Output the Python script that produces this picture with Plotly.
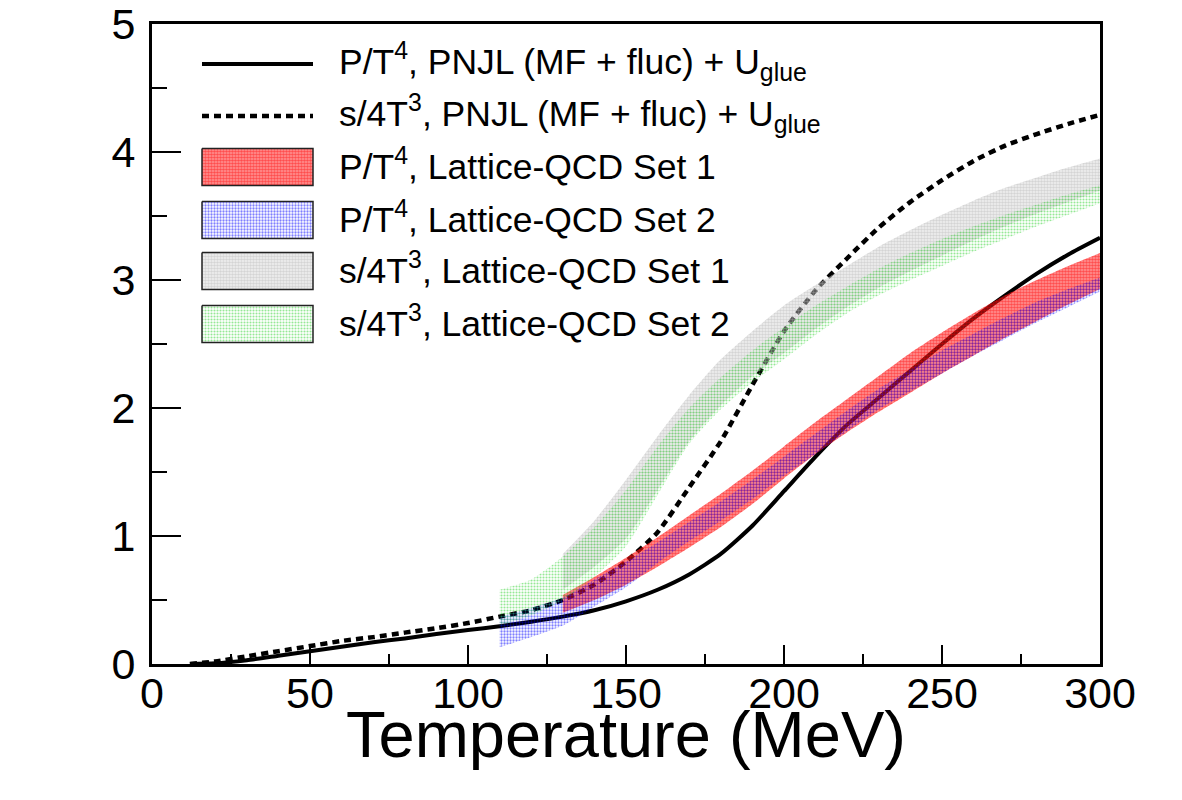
import plotly.graph_objects as go

# ---------------- data ----------------
T_line = [12, 20, 30, 40, 50, 60, 70, 80, 90, 100, 110, 120, 130, 140, 150, 160, 170, 180, 190, 200,
          210, 220, 230, 240, 250, 260, 270, 280, 290, 300]
P_pnjl = [0.0, 0.005, 0.03, 0.065, 0.10, 0.135, 0.17, 0.20, 0.235, 0.265, 0.295, 0.33, 0.37, 0.42, 0.49,
          0.58, 0.70, 0.86, 1.08, 1.35, 1.62, 1.87, 2.08, 2.29, 2.50, 2.70, 2.88, 3.05, 3.20, 3.33]
S_pnjl = [0.0, 0.02, 0.06, 0.10, 0.14, 0.18, 0.21, 0.245, 0.28, 0.32, 0.37, 0.42, 0.50, 0.62, 0.80,
          1.03, 1.38, 1.74, 2.18, 2.60, 2.92, 3.17, 3.41, 3.61, 3.78, 3.93, 4.05, 4.14, 4.22, 4.29]

T_set1 = [130, 140, 150, 160, 170, 180, 190, 200, 210, 220, 230, 240, 250, 260, 270, 280, 290, 300]
T_set2 = [110, 120, 130, 140, 150, 160, 170, 180, 190, 200, 210, 220, 230, 240, 250, 260, 270, 280, 290, 300]

P_set1_lo = [0.40, 0.50, 0.62, 0.76, 0.91, 1.07, 1.25, 1.45, 1.64, 1.81, 1.97, 2.12, 2.27, 2.41, 2.55, 2.68, 2.81, 2.93]
P_set1_hi = [0.54, 0.68, 0.83, 0.99, 1.16, 1.33, 1.51, 1.70, 1.89, 2.07, 2.25, 2.43, 2.59, 2.74, 2.88, 3.00, 3.11, 3.21]
P_set2_lo = [0.13, 0.21, 0.30, 0.45, 0.60, 0.79, 0.96, 1.12, 1.29, 1.47, 1.64, 1.82, 1.99, 2.13, 2.27, 2.41, 2.54, 2.67, 2.79, 2.91]
P_set2_hi = [0.37, 0.44, 0.52, 0.66, 0.80, 0.95, 1.11, 1.27, 1.44, 1.62, 1.80, 1.98, 2.15, 2.30, 2.45, 2.58, 2.71, 2.83, 2.93, 3.02]

S_set1_lo = [0.58, 0.76, 0.98, 1.36, 1.74, 2.02, 2.25, 2.43, 2.62, 2.79, 2.94, 3.07, 3.19, 3.31, 3.42, 3.52, 3.61, 3.70]
S_set1_hi = [0.86, 1.12, 1.44, 1.78, 2.10, 2.38, 2.60, 2.80, 2.96, 3.11, 3.26, 3.39, 3.51, 3.62, 3.72, 3.80, 3.88, 3.95]
S_set2_lo = [0.30, 0.38, 0.50, 0.68, 0.92, 1.32, 1.72, 1.99, 2.20, 2.38, 2.57, 2.74, 2.88, 3.00, 3.11, 3.22, 3.32, 3.42, 3.51, 3.60]
S_set2_hi = [0.58, 0.66, 0.84, 1.07, 1.36, 1.70, 2.00, 2.24, 2.45, 2.63, 2.80, 2.95, 3.09, 3.21, 3.32, 3.42, 3.51, 3.59, 3.67, 3.74]

legend_labels = [
    "P/T<sup>4</sup>, PNJL (MF + fluc) + U<sub>glue</sub>",
    "s/4T<sup>3</sup>, PNJL (MF + fluc) + U<sub>glue</sub>",
    "P/T<sup>4</sup>, Lattice-QCD Set 1",
    "P/T<sup>4</sup>, Lattice-QCD Set 2",
    "s/4T<sup>3</sup>, Lattice-QCD Set 1",
    "s/4T<sup>3</sup>, Lattice-QCD Set 2",
]
x_ticks = [0, 50, 100, 150, 200, 250, 300]
y_ticks = [0, 1, 2, 3, 4, 5]
x_title = "Temperature (MeV)"

# ---------------- styles ----------------
W, H = 1182, 800
FONT = "Liberation Sans, Arial, Helvetica, sans-serif"
PL, PR, PT, PB = 152, 1100, 24, 664  # plot frame in pixels

band_styles = {
    "red": dict(shape=".", fgcolor="#ff0000", bgcolor="rgba(255,30,30,0.45)", size=3, solidity=0.6),
    "blue": dict(shape=".", fgcolor="#0000ff", bgcolor="rgba(0,0,0,0)", size=3, solidity=0.45),
    "grey": dict(shape=".", fgcolor="#b8b8b8", bgcolor="rgba(215,215,215,0.35)", size=3, solidity=0.55),
    "green": dict(shape=".", fgcolor="#2ed12e", bgcolor="rgba(0,0,0,0)", size=3, solidity=0.4),
}

fig = go.Figure()

# lines
fig.add_trace(go.Scatter(x=T_line, y=P_pnjl, mode="lines",
                         line=dict(color="black", width=4, shape="spline", smoothing=0.6),
                         showlegend=False, hoverinfo="skip"))
fig.add_trace(go.Scatter(x=T_line, y=S_pnjl, mode="lines",
                         line=dict(color="black", width=4.5, dash="7px,5px", shape="spline", smoothing=0.6),
                         showlegend=False, hoverinfo="skip"))


def add_band(T, lo, hi, style):
    fig.add_trace(go.Scatter(x=T, y=lo, mode="lines", line=dict(width=0, shape="spline", smoothing=0.6),
                             showlegend=False, hoverinfo="skip"))
    fig.add_trace(go.Scatter(x=T, y=hi, mode="lines", line=dict(width=0, shape="spline", smoothing=0.6),
                             fill="tonexty", fillcolor="rgba(0,0,0,0)", fillpattern=style,
                             showlegend=False, hoverinfo="skip"))


add_band(T_set1, P_set1_lo, P_set1_hi, band_styles["red"])
add_band(T_set2, P_set2_lo, P_set2_hi, band_styles["blue"])
add_band(T_set1, S_set1_lo, S_set1_hi, band_styles["grey"])
add_band(T_set2, S_set2_lo, S_set2_hi, band_styles["green"])

# ---------------- legend (drawn on a full-figure pixel overlay axis) ----------------
leg_x0, leg_x1, txt_x = 202, 313, 337
row_y = [64, 116, 167, 220, 271, 324]
txt_dy = -3
box_h = 37
fig.add_trace(go.Scatter(x=[leg_x0, leg_x1], y=[row_y[0]] * 2, xaxis="x2", yaxis="y2", mode="lines",
                         line=dict(color="black", width=4), showlegend=False, hoverinfo="skip"))
fig.add_trace(go.Scatter(x=[leg_x0, leg_x1], y=[row_y[1]] * 2, xaxis="x2", yaxis="y2", mode="lines",
                         line=dict(color="black", width=4.5, dash="7px,5px"), showlegend=False, hoverinfo="skip"))
for yc, key in zip(row_y[2:], ["red", "blue", "grey", "green"]):
    y0, y1 = yc - box_h / 2, yc + box_h / 2
    fig.add_trace(go.Scatter(x=[leg_x0, leg_x1, leg_x1, leg_x0, leg_x0], y=[y0, y0, y1, y1, y0],
                             xaxis="x2", yaxis="y2", mode="lines", fill="toself", fillcolor="rgba(0,0,0,0)",
                             fillpattern=band_styles[key], line=dict(color="#222", width=1.5),
                             showlegend=False, hoverinfo="skip"))
for yc, lab in zip(row_y, legend_labels):
    fig.add_annotation(x=txt_x, y=yc + txt_dy, xref="x2", yref="y2", text=lab, showarrow=False,
                       xanchor="left", yanchor="middle", font=dict(family=FONT, size=35.5, color="black"))

# axis title
fig.add_annotation(x=(PL + PR) / 2, y=734, xref="x2", yref="y2", text=x_title, showarrow=False,
                   xanchor="center", yanchor="middle", font=dict(family=FONT, size=65, color="black"))

xd = [PL / W, PR / W]
yd = [1 - PB / H, 1 - PT / H]
fig.update_layout(
    width=W, height=H, margin=dict(l=0, r=0, t=0, b=0, autoexpand=False),
    paper_bgcolor="white", plot_bgcolor="rgba(0,0,0,0)",
    showlegend=False,
    xaxis=dict(domain=xd, range=[0, 300], tickvals=x_ticks, ticks="inside", ticklen=19, tickwidth=2,
               tickcolor="black", showline=True, linecolor="black", linewidth=3, mirror=True,
               showgrid=False, zeroline=False, tickfont=dict(family=FONT, size=43, color="black"),
               ticklabelstandoff=-11, automargin=False,
               minor=dict(dtick=25, ticks="inside", ticklen=10, tickwidth=2, tickcolor="black", showgrid=False)),
    yaxis=dict(domain=yd, range=[0, 5], tickvals=y_ticks, ticks="inside", ticklen=29, tickwidth=2,
               tickcolor="black", showline=True, linecolor="black", linewidth=3, mirror=True,
               showgrid=False, zeroline=False, tickfont=dict(family=FONT, size=43, color="black"),
               ticklabelstandoff=5, automargin=False,
               minor=dict(dtick=0.5, ticks="inside", ticklen=15, tickwidth=2, tickcolor="black", showgrid=False)),
    xaxis2=dict(domain=[0, 1], range=[0, W], visible=False, anchor="y2", fixedrange=True, automargin=False),
    yaxis2=dict(domain=[0, 1], range=[H, 0], visible=False, anchor="x2", fixedrange=True, automargin=False),
)

fig.write_html("out.html")
